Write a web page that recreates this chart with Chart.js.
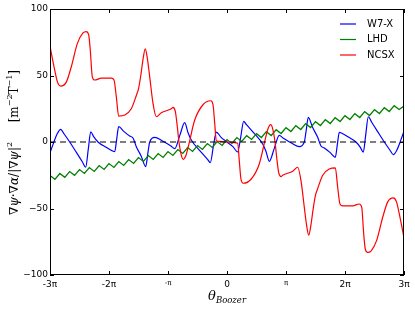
<!DOCTYPE html>
<html>
<head>
<meta charset="utf-8">
<script src="https://cdn.jsdelivr.net/npm/chart.js@4.4.1/dist/chart.umd.min.js"></script>
<style>
  html, body { margin: 0; padding: 0; background: #fff; }
  #wrap { width: 415px; height: 310px; position: relative; }
</style>
</head>
<body>
<div id="wrap"><canvas id="chart"></canvas></div>
<script>
// theta is in units of pi
var xTickLabels = ['-3π', '-2π', '-π', '0', 'π', '2π', '3π'];
var yTicks = [-100, -50, 0, 50, 100];

var w7xTheta = [-3.000, -2.95, -2.88, -2.819, -2.76, -2.666, -2.55, -2.45, -2.395, -2.35, -2.31, -2.26, -2.186,
    -2.05, -1.93, -1.903, -1.87, -1.836, -1.75, -1.65, -1.593, -1.537, -1.45, -1.378, -1.34, -1.31, -1.225,
    -1.1, -0.95, -0.886, -0.8, -0.717, -0.66, -0.605, -0.45, -0.33, -0.283, -0.23, -0.181, -0.1, 0,
    0.1, 0.181, 0.23, 0.283, 0.33, 0.45, 0.605, 0.66, 0.717, 0.8, 0.886, 0.95, 1.1, 1.225, 1.31, 1.34,
    1.378, 1.45, 1.537, 1.593, 1.65, 1.75, 1.836, 1.87, 1.903, 1.93, 2.05, 2.186, 2.26, 2.31, 2.35,
    2.395, 2.45, 2.55, 2.666, 2.76, 2.819, 2.88, 2.95, 3.0];
var w7xValues = [-8, -2, 6, 9.5, 6, 0, -8, -15, -19, -5, 7.7, 4, 0,
    -4, -7, -7.3, 2, 11.5, 8, 4.5, 3, -3.5, -11, -18.5, -8, 0, 3.5,
    1, -3, -5, 5, 14.5, 7, 1.5, -7, -13, -15.5, -3, 7.5, 3.5, 0,
    -3.5, -7.5, 3, 15.5, 13, 7, -1.5, -7, -14.5, -5, 5, 3, -1, -3.5, 0, 8,
    18.5, 11, 3.5, -3, -4.5, -8, -11.5, -2, 7.3, 7, 4, 0, -4, -7.7, 5,
    19, 15, 8, 0, -6, -9.5, -6, 2, 8];

var lhdTheta = [];
var lhdValues = [-25.2, -28.1, -23.7, -26.6, -22.2, -25.1, -20.7, -23.6, -19.2, -22.1, -17.7, -20.6,
    -16.2, -19.1, -14.7, -17.6, -13.2, -16.1, -11.7, -14.6, -10.2, -13.1, -8.7, -11.6,
    -7.2, -10.1, -5.7, -8.6, -4.2, -7.1, -2.7, -5.6, -1.2, -4.1, 0.3, -2.6,
    1.8, -1.1, 3.3, 0.4, 4.8, 1.9, 6.3, 3.4, 7.8, 4.9, 9.3, 6.4,
    10.8, 7.9, 12.3, 9.4, 13.8, 10.9, 15.3, 12.4, 16.8, 13.9, 18.3, 15.4,
    19.8, 16.9, 21.3, 18.4, 22.8, 19.9, 24.3, 21.4, 25.8, 22.9, 27.3, 24.4, 27.0];
for (var k = 0; k < lhdValues.length; k++) lhdTheta.push(-3 + k / 12);

var ncsxTheta = [-3.000, -2.920, -2.873, -2.819, -2.724, -2.639, -2.537, -2.441, -2.385, -2.344, -2.317,
    -2.283, -2.242, -2.131, -1.961, -1.915, -1.876, -1.836, -1.734, -1.622, -1.537, -1.500, -1.458,
    -1.424, -1.385, -1.347, -1.310, -1.254, -1.198, -1.114, -0.944, -0.915, -0.876, -0.842, -0.814,
    -0.768, -0.741, -0.695, -0.656, -0.547, -0.407, -0.276, -0.237, -0.208, -0.181, -0.124, -0.017, 0,
    0.017, 0.124, 0.181, 0.208, 0.237, 0.276, 0.407, 0.547, 0.656, 0.695, 0.741, 0.768, 0.814, 0.842,
    0.876, 0.915, 0.944, 1.114, 1.198, 1.254, 1.310, 1.347, 1.385, 1.424, 1.458, 1.500, 1.537, 1.622,
    1.734, 1.836, 1.876, 1.915, 1.961, 2.131, 2.242, 2.283, 2.317, 2.344, 2.385, 2.441, 2.537, 2.639,
    2.724, 2.819, 2.873, 2.920, 3.000];
var ncsxValues = [72, 54, 45, 42, 45, 56.6, 74, 82, 83, 80.5, 69,
    49, 46.6, 48, 48, 46.6, 34, 19.5, 20.3, 25, 35, 40, 51,
    62, 70, 62, 49, 29, 19, 22, 25, 26, 23, 11.5, 0,
    -11, -13, -10, -3.5, 16.5, 28, 31, 28, 14, 1, 0.5, 0, 0,
    0, -0.5, -1, -14, -28, -31, -28, -16.5, 3.5, 10, 13, 11, 0, -11.5,
    -23, -26, -25, -22, -19, -29, -49, -62, -70, -62, -51, -40, -35, -25,
    -20.3, -19.5, -34, -46.6, -48, -48, -46.6, -49, -69, -80.5, -83, -82, -74, -56.6,
    -45, -42, -45, -54, -72];

var seriesNames = ['W7-X', 'LHD', 'NCSX'];
var seriesColors = ['#0000ff', '#008000', '#ff0000'];

function toPoints(xs, ys) {
    return xs.map(function(x, i) { return { x: x, y: ys[i] }; });
}

// draws a list of [text, font, dy] pieces one after another
function drawRuns(ctx, runs, x, y) {
    runs.forEach(function(r) {
        ctx.font = r[1];
        ctx.fillText(r[0], x, y + (r[2] || 0));
        x += ctx.measureText(r[0]).width;
    });
}
function runsWidth(ctx, runs) {
    var w = 0;
    runs.forEach(function(r) { ctx.font = r[1]; w += ctx.measureText(r[0]).width; });
    return w;
}

var frameAndLabels = {
    id: 'frameAndLabels',
    afterDraw: function(chart) {
        var ctx = chart.ctx;
        var a = chart.chartArea;
        var xs = chart.scales.x, ys = chart.scales.y;
        ctx.save();
        ctx.strokeStyle = '#000';
        ctx.lineWidth = 1;
        ctx.strokeRect(Math.round(a.left) + 0.5, Math.round(a.top) + 0.5,
            Math.round(a.right - a.left) - 1, Math.round(a.bottom - a.top) - 1);

        // inward ticks on all four sides
        ctx.beginPath();
        xTickLabels.forEach(function(l, i) {
            var px = Math.round(xs.getPixelForValue(i - 3)) + 0.5;
            ctx.moveTo(px, a.bottom); ctx.lineTo(px, a.bottom - 4);
            ctx.moveTo(px, a.top); ctx.lineTo(px, a.top + 4);
        });
        yTicks.forEach(function(v) {
            var py = Math.round(ys.getPixelForValue(v)) + 0.5;
            ctx.moveTo(a.left, py); ctx.lineTo(a.left + 4, py);
            ctx.moveTo(a.right, py); ctx.lineTo(a.right - 4, py);
        });
        ctx.stroke();

        // legend inside the plot
        ctx.textBaseline = 'middle';
        ctx.fillStyle = '#000';
        ctx.font = '10px "DejaVu Sans"';
        seriesNames.forEach(function(name, i) {
            var yy = a.top + 15 + i * 15.5;
            ctx.strokeStyle = seriesColors[i];
            ctx.lineWidth = 1.2;
            ctx.beginPath();
            ctx.moveTo(a.right - 64, yy); ctx.lineTo(a.right - 48, yy);
            ctx.stroke();
            ctx.fillText(name, a.right - 37, yy);
        });

        // x axis title
        ctx.textBaseline = 'alphabetic';
        var xRuns = [['θ', 'italic 13px "DejaVu Serif"', 0], ['Boozer', 'italic 8.5px "DejaVu Serif"', 3]];
        var cx = (a.left + a.right) / 2;
        drawRuns(ctx, xRuns, cx - runsWidth(ctx, xRuns) / 2, 300);

        // y axis title, rotated
        var up = '12px "DejaVu Serif"', it = 'italic 12px "DejaVu Serif"', sup = '8px "DejaVu Serif"';
        var part1 = [['∇', up], ['ψ', it], ['·', up], ['∇', up], ['α', it], ['/', up], ['|∇', up], ['ψ', it], ['|', up], ['2', sup, -6]];
        var part2 = [['[m', up], ['−2', sup, -6], ['T', up], ['−1', sup, -6], [']', up]];
        ctx.translate(18, 215);
        ctx.rotate(-Math.PI / 2);
        drawRuns(ctx, part1, 0, 0);
        drawRuns(ctx, part2, 145 - runsWidth(ctx, part2), 0);
        ctx.restore();
    }
};

new Chart(document.getElementById('chart'), {
    type: 'line',
    data: {
        datasets: [{
            label: 'zero',
            data: [{ x: -3, y: 0 }, { x: 3, y: 0 }],
            borderColor: '#000',
            borderWidth: 1.2,
            borderDash: [6, 4],
            pointRadius: 0,
            order: 0
        }, {
            label: seriesNames[0],
            data: toPoints(w7xTheta, w7xValues),
            borderColor: seriesColors[0],
            borderWidth: 1.2,
            pointRadius: 0,
            cubicInterpolationMode: 'monotone',
            order: 3
        }, {
            label: seriesNames[1],
            data: toPoints(lhdTheta, lhdValues),
            borderColor: seriesColors[1],
            borderWidth: 1.3,
            pointRadius: 0,
            tension: 0,
            order: 2
        }, {
            label: seriesNames[2],
            data: toPoints(ncsxTheta, ncsxValues),
            borderColor: seriesColors[2],
            borderWidth: 1.2,
            pointRadius: 0,
            cubicInterpolationMode: 'monotone',
            order: 1
        }]
    },
    options: {
        responsive: true,
        maintainAspectRatio: false,
        animation: false,
        layout: { padding: { top: 9, right: 11, left: 0, bottom: 0 } },
        plugins: {
            legend: { display: false },
            tooltip: { enabled: false }
        },
        scales: {
            x: {
                type: 'linear',
                min: -3,
                max: 3,
                grid: { display: false, drawTicks: false },
                border: { display: false },
                afterFit: function(scale) { scale.height = 35; },
                ticks: {
                    stepSize: 1,
                    padding: 4,
                    maxRotation: 0,
                    color: '#000',
                    font: function(c) {
                        var v = c.tick ? c.tick.value : 0;
                        return { family: 'DejaVu Sans', size: Math.abs(v) === 1 ? 7 : 9 };
                    },
                    callback: function(value) { return xTickLabels[Math.round(value) + 3]; }
                }
            },
            y: {
                min: -100,
                max: 100,
                grid: { display: false, drawTicks: false },
                border: { display: false },
                afterFit: function(scale) { scale.width = 50; },
                ticks: {
                    stepSize: 50,
                    padding: 2,
                    color: '#000',
                    font: { family: 'DejaVu Sans', size: 9 },
                    callback: function(value) { return value < 0 ? '−' + Math.abs(value) : String(value); }
                }
            }
        }
    },
    plugins: [frameAndLabels]
});
</script>
</body>
</html>
